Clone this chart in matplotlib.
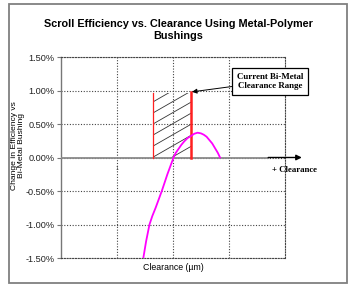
import matplotlib
matplotlib.use("Agg")
import matplotlib.pyplot as plt
import numpy as np
from matplotlib.patches import Rectangle

plt.rcParams["font.family"] = ["Liberation Sans", "DejaVu Sans"]

# change in efficiency (%) vs clearance (arbitrary units, grid spacing = 1)
clearance = [1.47, 1.495, 1.52, 1.55, 1.58, 1.63, 1.69, 1.745, 1.80, 1.85, 1.90, 1.955, 2.01,
             2.05, 2.10, 2.15, 2.20, 2.26, 2.32, 2.38, 2.44, 2.50, 2.55, 2.60, 2.65, 2.70,
             2.75, 2.80, 2.84]
eff_change = [-1.50, -1.375, -1.25, -1.125, -1.00, -0.875, -0.75, -0.625, -0.50, -0.375, -0.25,
              -0.125, 0.00, 0.07, 0.13, 0.19, 0.24, 0.29, 0.32, 0.355, 0.37, 0.36, 0.34, 0.31,
              0.26, 0.21, 0.14, 0.07, 0.00]

y_ticks = [1.5, 1.0, 0.5, 0.0, -0.5, -1.0, -1.5]
y_tick_labels = ["1.50%", "1.00%", "0.50%", "0.00%", "-0.50%", "-1.00%", "-1.50%"]

# current bi-metal clearance range
range_lo, range_hi = 1.64, 2.32
range_top_lo, range_top_hi = 0.96, 0.98

fig = plt.figure(figsize=(3.55, 2.88), dpi=100)
ax = fig.add_axes([61 / 355, 1 - 258 / 288, 224 / 355, 201 / 288])
ax.set_xlim(0, 4)
ax.set_ylim(-1.5, 1.5)

# dotted grid, including the outer edges
for name in ["top", "right", "bottom"]:
    ax.spines[name].set_linestyle((0, (1, 1.5)))
    ax.spines[name].set_linewidth(0.8)
    ax.spines[name].set_color("#444444")
ax.spines["left"].set_color("#777777")
ax.spines["left"].set_linewidth(1.0)
ax.set_xticks([1, 2, 3])
ax.set_xticklabels([])
ax.tick_params(axis="x", length=0)
ax.set_yticks(y_ticks)
ax.set_yticklabels(y_tick_labels, fontsize=6.6, color="#222222")
ax.tick_params(axis="y", length=3, width=0.8, color="#777777", pad=1.5)
ax.grid(True, linestyle=(0, (1, 1.5)), linewidth=0.8, color="#444444")

# zero line and "+ Clearance" arrow
ax.plot([0, 3.70], [0, 0], color="#8a8a8a", lw=1.3, zorder=3)
ax.annotate("", xy=(4.30, 0), xytext=(3.70, 0),
            arrowprops=dict(arrowstyle="-|>", color="black", lw=1.0, mutation_scale=8,
                            shrinkA=0, shrinkB=0),
            annotation_clip=False, zorder=4)
ax.text(3.76, -0.19, "+ Clearance", fontsize=6.3, family=["Liberation Serif"],
        fontweight="bold", ha="left", va="center", clip_on=False)
ax.text(1.0, -0.16, "1", fontsize=3.5, ha="center", va="center", color="#333333")

# hatched clearance range
clip_rect = Rectangle((range_lo, 0), range_hi - range_lo, range_top_lo,
                      transform=ax.transData, facecolor="none", edgecolor="none")
ax.add_patch(clip_rect)
slope = 0.48
spacing = 0.165
for y0 in np.arange(-slope * (range_hi - range_lo), range_top_lo, spacing):
    ln, = ax.plot([range_lo, range_hi], [y0, y0 + slope * (range_hi - range_lo)],
                  color="#333333", lw=0.6, zorder=2)
    ln.set_clip_path(clip_rect)
ax.plot([range_lo, range_lo], [0, range_top_lo], color="#ff2020", lw=0.9, zorder=3)
ax.plot([range_hi, range_hi], [0, range_top_hi], color="#ff2020", lw=1.8, zorder=3)

# efficiency curve
ax.plot(clearance, eff_change, color="#ff00ff", lw=1.3, zorder=5, solid_joinstyle="round")

# annotation box
ax.annotate("Current Bi-Metal\nClearance Range", xy=(range_hi + 0.02, range_top_hi),
            xytext=(3.73, 1.135), fontsize=6.4, family=["Liberation Serif"],
            fontweight="bold", ha="center", va="center", annotation_clip=False,
            linespacing=1.3,
            bbox=dict(boxstyle="square,pad=0.5", fc="white", ec="black", lw=0.9),
            arrowprops=dict(arrowstyle="-|>", color="black", lw=0.7, mutation_scale=7,
                            shrinkA=0, shrinkB=0),
            zorder=6)

fig.text(178 / 355, 1 - 30 / 288, "Scroll Efficiency vs. Clearance Using Metal-Polymer\nBushings",
         ha="center", va="center", fontsize=7.8, fontweight="bold", linespacing=1.3)
fig.text(18 / 355, 1 - 146 / 288, "Change in Efficiency vs\nBi-Metal Bushing",
         rotation=90, ha="center", va="center", fontsize=6.1, linespacing=1.1)
fig.text(173 / 355, 1 - 268 / 288, "Clearance (\u00b5m)", ha="center", va="center", fontsize=6.3)

# outer chart frame
fig.patches.append(Rectangle((9 / 355, 1 - 283 / 288), 338 / 355, 279 / 288,
                             transform=fig.transFigure, fill=False,
                             edgecolor="#808080", lw=1.3))

fig.savefig("out.png", dpi=100)
